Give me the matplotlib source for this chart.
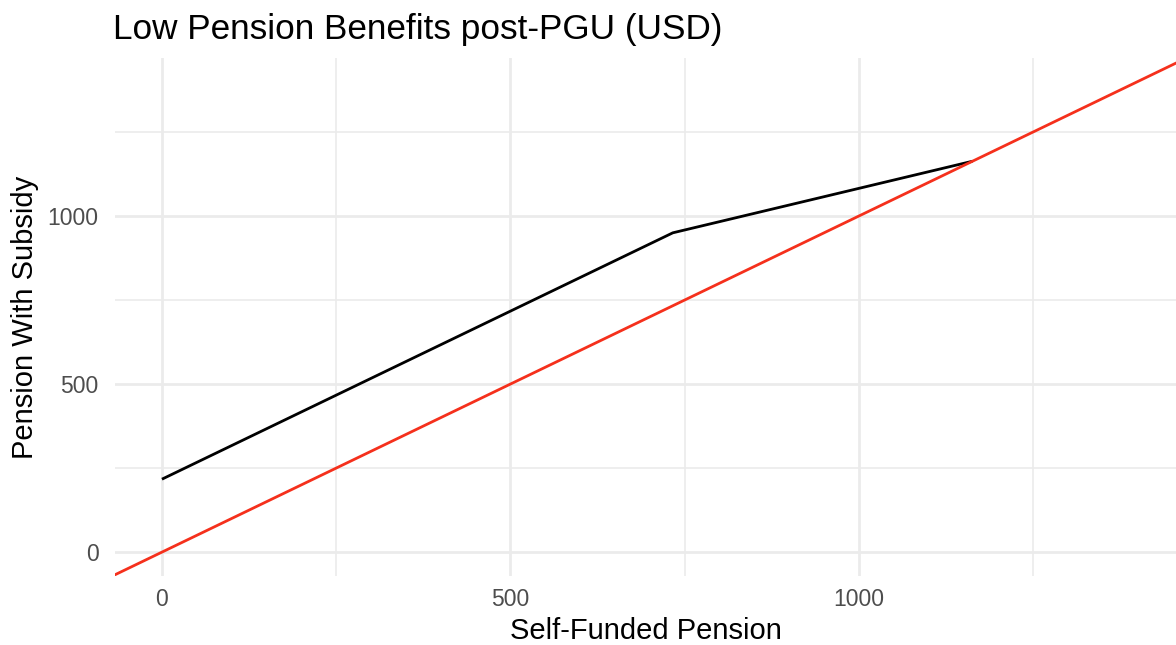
import matplotlib.pyplot as plt
import numpy as np

plt.rcParams.update({
    'font.family': ['Liberation Sans', 'DejaVu Sans'],
})

# black line: pension with subsidy vs self-funded pension
self_funded = [0, 733, 1163]
with_subsidy = [217, 950, 1163]

# reference line y = x (slope / intercept)
ref_intercept = 0
ref_slope = 1

x_major = [0, 500, 1000]
x_minor = [250, 750, 1250]
y_major = [0, 500, 1000]
y_minor = [250, 750, 1250]

fig = plt.figure(figsize=(11.76, 6.45), dpi=100)
ax = fig.add_axes([0.098, 0.107, 0.902, 0.803])

ax.plot(self_funded, with_subsidy, color='black', lw=2.0, solid_capstyle='butt', zorder=3)
ax.axline((0, ref_intercept), slope=ref_slope, color='#F5301C', lw=2.0, zorder=4)

ax.set_xlim(-67, 1455)
ax.set_ylim(-71, 1470)

ax.set_xticks(x_major)
ax.set_xticks(x_minor, minor=True)
ax.set_yticks(y_major)
ax.set_yticks(y_minor, minor=True)
ax.grid(True, which='major', color='#EBEBEB', lw=2.0)
ax.grid(True, which='minor', color='#EBEBEB', lw=1.2)
ax.set_axisbelow(True)
for s in ax.spines.values():
    s.set_visible(False)
ax.tick_params(which='both', length=0, labelsize=16.5, labelcolor='#4D4D4D')
ax.tick_params(axis='y', pad=12)
ax.tick_params(axis='x', pad=9)

ax.set_xlabel('Self-Funded Pension', fontsize=21, labelpad=4)
ax.set_ylabel('Pension With Subsidy', fontsize=21, labelpad=6)
ax.set_title('Low Pension Benefits post-PGU (USD)', fontsize=25.3, loc='left', x=-0.002, pad=14)

fig.savefig('out.png', dpi=100)
